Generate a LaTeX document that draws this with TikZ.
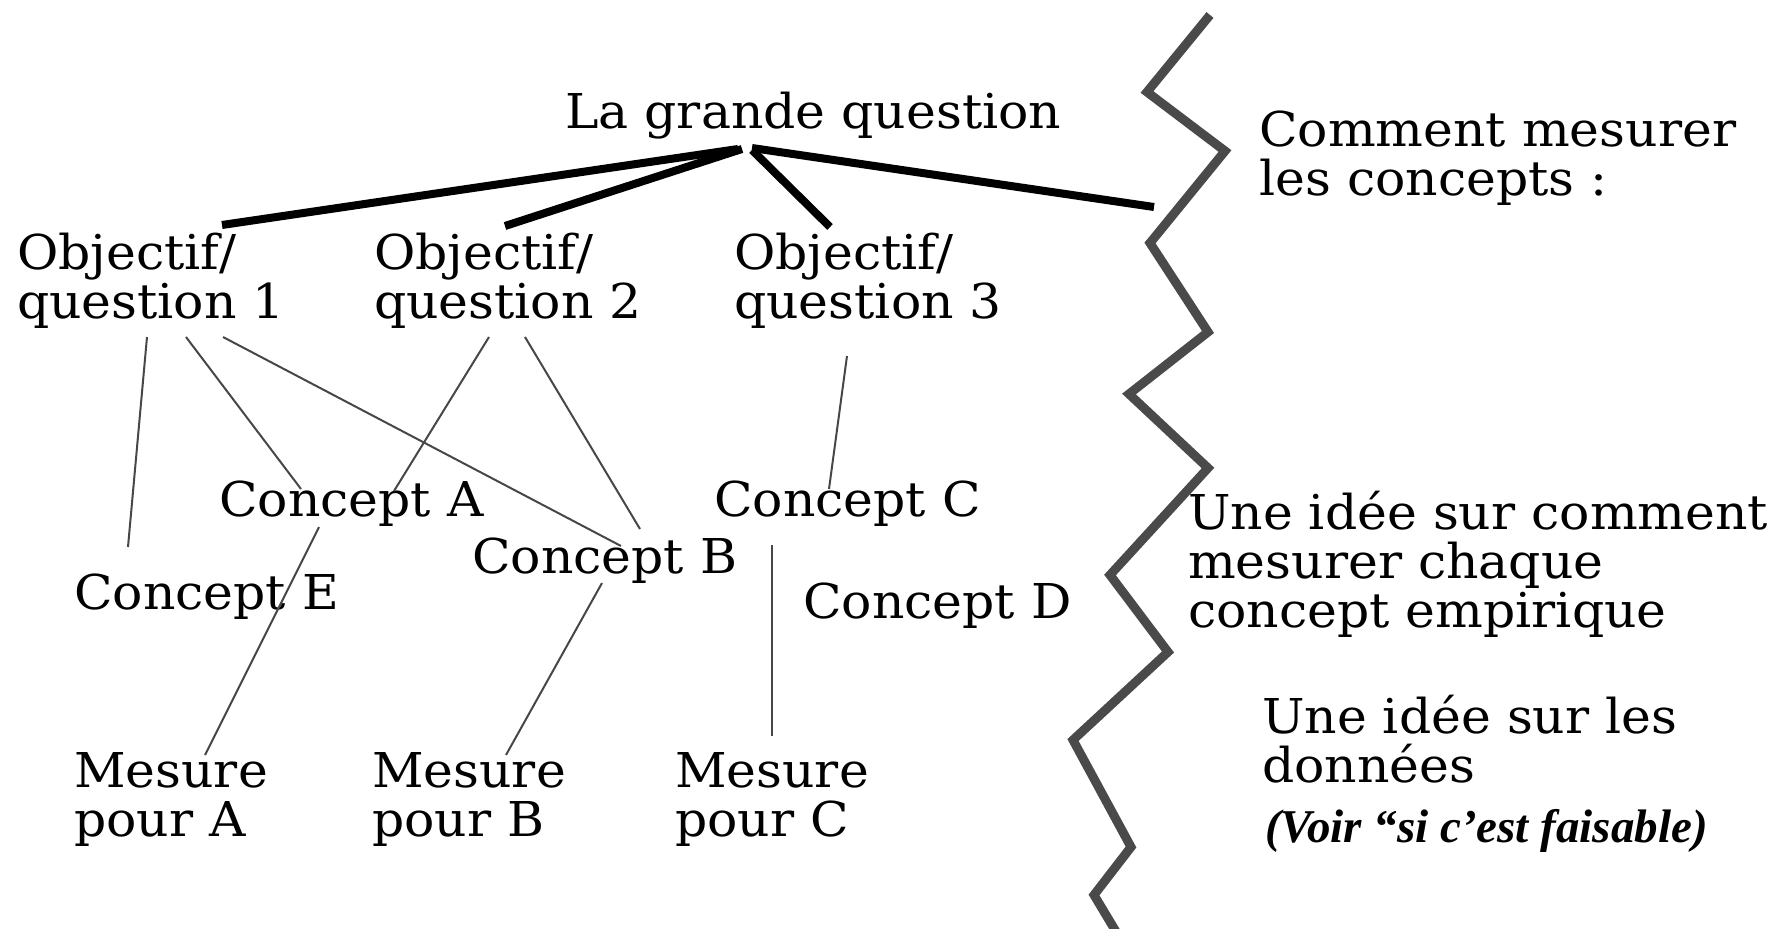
\documentclass[tikz,border=0pt]{standalone}
\usepackage{fontspec}
\setmainfont[FakeStretch=1.05]{DejaVu Serif}
\newfontfamily\noteserif{Liberation Serif}
\begin{document}
\begin{tikzpicture}[x=1pt,y=-1pt,
  lbl/.style={inner sep=0pt, anchor=base west, align=left, font=\fontsize{48}{49}\selectfont},
  notelbl/.style={inner sep=0pt, anchor=base west, font=\noteserif\bfseries\itshape\fontsize{47}{48}\selectfont},
  boldlink/.style={line width=8pt, black},
  thinlink/.style={line width=2pt, black!72},
  zig/.style={line width=9pt, black!71, line join=miter}]
\useasboundingbox (0,0) rectangle (1778,929);

% texts (multi-line nodes: anchor at last baseline)
\node[lbl] (lgq) at (565,128) {La grande question};
\node[lbl] (o1) at (17,318) {Objectif/\\question 1};
\node[lbl] (o2) at (374,318) {Objectif/\\question 2};
\node[lbl] (o3) at (734,318) {Objectif/\\question 3};
\node[lbl] (cm) at (1259,195) {Comment mesurer\\les concepts :};
\node[lbl] (ca) at (219,516) {Concept A};
\node[lbl] (cc) at (714,516) {Concept C};
\node[lbl] (cb) at (472,573) {Concept B};
\node[lbl] (ce) at (74,609) {Concept E};
\node[lbl] (cd) at (803,618) {Concept D};
\node[lbl] (ui) at (1188,627) {Une idée sur comment\\mesurer chaque\\concept empirique};
\node[lbl] (ud) at (1262,782) {Une idée sur les\\données};
\node[notelbl] (vf) at (1265,842) {(Voir “si c’est faisable)};
\node[lbl] (ma) at (74,836) {Mesure\\pour A};
\node[lbl] (mb) at (372,836) {Mesure\\pour B};
\node[lbl] (mc) at (675,836) {Mesure\\pour C};

% connector end points
\coordinate (t1) at (738,149);
\coordinate (t2) at (742,149);
\coordinate (t3) at (752,150);
\coordinate (t4) at (752,148);
\coordinate (q1) at (222,225);
\coordinate (q2) at (505,226);
\coordinate (q3) at (830,227);
\coordinate (wall) at (1154,207);

\coordinate (o1a) at (147,337);
\coordinate (o1b) at (186,337);
\coordinate (o1c) at (223,337);
\coordinate (o2a) at (489,337);
\coordinate (o2b) at (525,337);
\coordinate (o3a) at (847,356);
\coordinate (ceT) at (128,547);
\coordinate (caT1) at (301,489);
\coordinate (caT2) at (394,491);
\coordinate (cbT1) at (621,546);
\coordinate (cbT2) at (640,529);
\coordinate (ccT) at (829,489);
\coordinate (caB) at (319,527);
\coordinate (cbB) at (602,583);
\coordinate (ccB) at (772,545);
\coordinate (maT) at (205,755);
\coordinate (mbT) at (506,755);
\coordinate (mcT) at (772,736);

% bold links
\draw[boldlink] (t1) -- (q1);
\draw[boldlink] (t2) -- (q2);
\draw[boldlink] (t3) -- (q3);
\draw[boldlink] (t4) -- (wall);

% thin links
\draw[thinlink] (o1a) -- (ceT);
\draw[thinlink] (o1b) -- (caT1);
\draw[thinlink] (o1c) -- (cbT1);
\draw[thinlink] (o2a) -- (caT2);
\draw[thinlink] (o2b) -- (cbT2);
\draw[thinlink] (o3a) -- (ccT);
\draw[thinlink] (caB) -- (maT);
\draw[thinlink] (cbB) -- (mbT);
\draw[thinlink] (ccB) -- (mcT);

% zigzag wall
\draw[zig] (1210,15) -- (1147,92) -- (1225,151) -- (1150,243) -- (1208,332)
  -- (1129,394) -- (1208,468) -- (1110,575) -- (1168,652) -- (1073,740)
  -- (1131,847) -- (1094,895) -- (1118,935);
\end{tikzpicture}
\end{document}
